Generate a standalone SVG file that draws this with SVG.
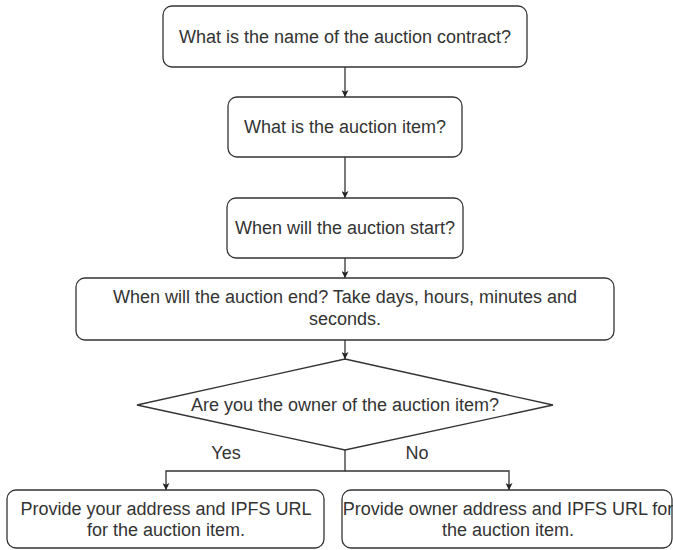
<svg xmlns="http://www.w3.org/2000/svg" width="673" height="550" viewBox="0 0 673 550">
<defs>
<style>
.box{fill:#fff;stroke:#333;stroke-width:1.3}
.t{font-family:"Liberation Sans",Arial,sans-serif;font-size:18px;fill:#333;text-anchor:middle}
.e{fill:none;stroke:#333;stroke-width:1.3}
</style>
<marker id="ah" viewBox="0 0 10 10" refX="10" refY="5" markerWidth="7" markerHeight="7" markerUnits="userSpaceOnUse" orient="auto">
<path d="M0,0 L10,5 L0,10 L2.5,5 Z" fill="#222"/>
</marker>
</defs>
<rect width="673" height="550" fill="#fff"/>
<g id="connectors">
<line class="e" x1="345" y1="67" x2="345" y2="97" marker-end="url(#ah)"/>
<line class="e" x1="345" y1="157" x2="345" y2="198" marker-end="url(#ah)"/>
<line class="e" x1="345" y1="258" x2="345" y2="278" marker-end="url(#ah)"/>
<line class="e" x1="345" y1="340" x2="345" y2="359" marker-end="url(#ah)"/>
<polyline class="e" points="345,450 345,471 166,471 166,490" marker-end="url(#ah)"/>
<polyline class="e" points="345,471 509,471 509,490" marker-end="url(#ah)"/>
<text class="t" x="226" y="459">Yes</text>
<text class="t" x="417" y="459">No</text>
</g>
<g id="n1">
<rect class="box" x="163" y="6" width="364" height="61" rx="9"/>
<text class="t" x="345" y="43">What is the name of the auction contract?</text>
</g>
<g id="n2">
<rect class="box" x="228" y="97" width="234" height="60" rx="9"/>
<text class="t" x="345" y="133">What is the auction item?</text>
</g>
<g id="n3">
<rect class="box" x="227" y="198" width="236" height="60" rx="9"/>
<text class="t" x="345" y="234">When will the auction start?</text>
</g>
<g id="n4">
<rect class="box" x="76" y="278" width="538" height="62" rx="9"/>
<text class="t" x="345" y="303">When will the auction end? Take days, hours, minutes and</text>
<text class="t" x="345" y="325">seconds.</text>
</g>
<g id="n5">
<polygon class="box" points="345,359 553,405 345,450 137,405"/>
<text class="t" x="345" y="411">Are you the owner of the auction item?</text>
</g>
<g id="n6">
<rect class="box" x="7" y="490" width="317" height="58" rx="9"/>
<text class="t" x="166" y="515">Provide your address and IPFS URL</text>
<text class="t" x="166" y="536">for the auction item.</text>
</g>
<g id="n7">
<rect class="box" x="342" y="490" width="330" height="58" rx="9"/>
<text class="t" x="508" y="515">Provide owner address and IPFS URL for</text>
<text class="t" x="508" y="536">the auction item.</text>
</g>
</svg>
